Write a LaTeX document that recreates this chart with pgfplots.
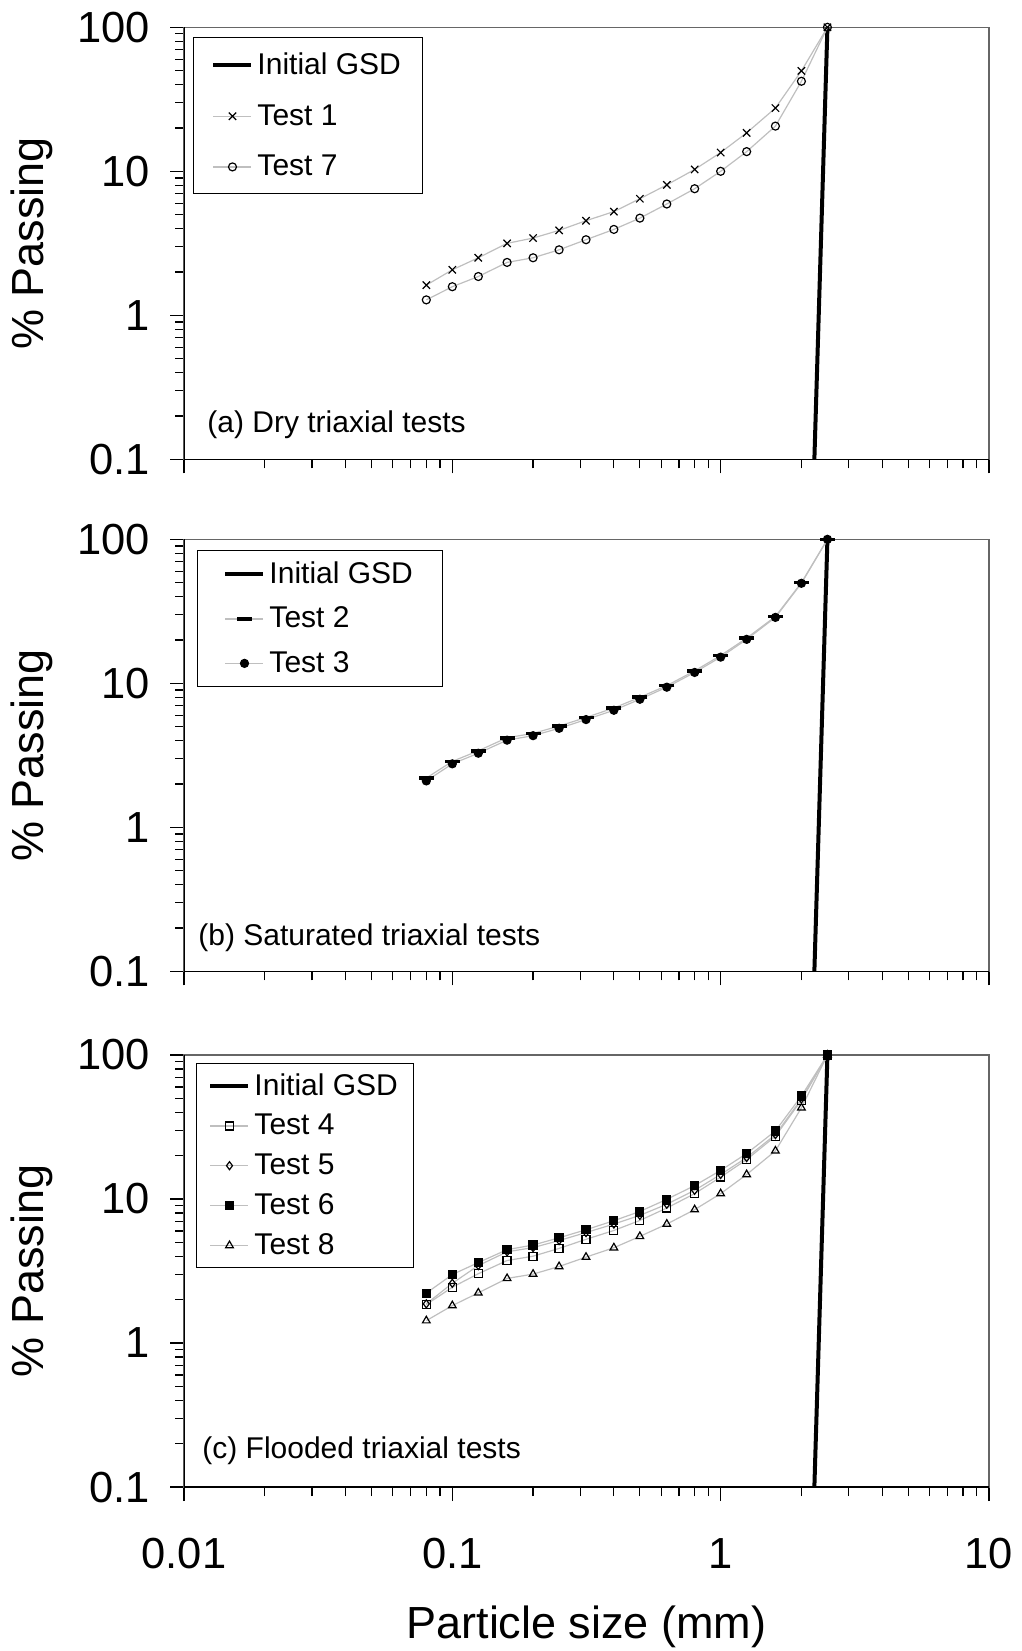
\documentclass[border=0pt]{standalone}
\usepackage{pgfplots}
\pgfplotsset{compat=1.18}
\usepackage{pgfplotstable}
\usepackage{fontspec}
\setmainfont{Liberation Sans}

\pgfplotstableread{
x      t1    t7    t2    t3    t4    t5    t6    t8
0.08   1.62  1.28  2.20  2.10  1.85  1.87  2.22  1.43
0.1    2.07  1.58  2.87  2.76  2.44  2.60  2.99  1.82
0.125  2.51  1.86  3.40  3.27  3.03  3.45  3.62  2.23
0.16   3.16  2.33  4.19  4.03  3.74  4.30  4.45  2.81
0.2    3.44  2.51  4.49  4.33  4.01  4.60  4.79  3.01
0.25   3.89  2.85  5.05  4.87  4.54  5.15  5.38  3.40
0.315  4.54  3.35  5.79  5.60  5.25  5.85  6.12  3.95
0.4    5.25  3.95  6.74  6.50  6.05  6.70  7.07  4.59
0.5    6.45  4.73  8.00  7.75  7.10  7.70  8.20  5.50
0.63   8.05  5.93  9.64  9.40  8.66  9.20  9.95  6.70
0.8    10.3  7.57  12.2  11.9  10.9  11.5  12.4  8.44
1      13.5  10.0  15.6  15.2  14.2  14.8  15.8  10.9
1.25   18.5  13.7  20.6  20.2  18.8  19.4  20.7  14.8
1.6    27.5  20.6  29.1  28.7  27.3  28.0  29.7  21.6
2      49.8  42.2  50.0  49.5  48.6  49.5  51.9  43.0
2.5    100   100   100   100   100   100   100   100
}\gsddata

\tikzset{
  gsdline/.style={color=black!25, line width=0.6pt},
  initline/.style={black, line width=2pt},
}

\pgfplotsset{
  every axis/.append style={
    xmode=log, ymode=log,
    scale only axis, width=402.5pt, height=216pt,
    xmin=0.01, xmax=10, ymin=0.1, ymax=100,
    xtick={0.01,0.1,1,10}, ytick={0.1,1,10,100},
    minor xtick={0.02,0.03,0.04,0.05,0.06,0.07,0.08,0.09,0.2,0.3,0.4,0.5,0.6,0.7,0.8,0.9,2,3,4,5,6,7,8,9},
    minor ytick={0.2,0.3,0.4,0.5,0.6,0.7,0.8,0.9,2,3,4,5,6,7,8,9,20,30,40,50,60,70,80,90},
    yticklabels={0.1,1,10,100},
    tick align=outside, xtick pos=left, ytick pos=left,
    major tick length=7pt, minor tick length=4.5pt,
    axis line style={draw=black!60, line width=0.6pt},
    ticklabel style={font=\fontsize{21.75}{26}\selectfont},
    yticklabel style={anchor=east, inner sep=0pt, xshift=-10pt},
    xticklabel style={anchor=base, inner sep=0pt, yshift=-33.5pt},
    ylabel={\% Passing},
    ylabel style={at={(axis description cs:-0.175,0.5)}, anchor=base, font=\fontsize{22.5}{27}\selectfont},
    legend cell align=left,
    legend image code/.code={\draw[mark repeat=2,mark phase=2] plot coordinates {(0pt,0pt) (9.5pt,0pt) (19pt,0pt)};},
  },
  every tick/.append style={black, line width=0.6pt},
  every axis legend/.append style={at={(0,1)}, anchor=north west, draw=black, line width=0.5pt,
      font=\fontsize{15}{18}\selectfont},
}

\begin{document}
\begin{tikzpicture}
\useasboundingbox (-92pt,13.65pt) rectangle (419pt,-811.85pt);

% (a)
\begin{axis}[at={(0pt,0pt)}, anchor=north west, xticklabels={},
  legend style={xshift=4.5pt, yshift=-4.85pt, inner xsep=9pt, inner ysep=5.6pt, row sep=9.5pt}]
\addplot[initline] coordinates {(2.235,0.1) (2.5,100)};
\addlegendentry{Initial GSD}
\addplot[gsdline, mark=x, mark size=2.6pt, mark options={draw=black, solid, line width=0.6pt}] table[x=x, y=t1] {\gsddata};
\addlegendentry{Test 1}
\addplot[gsdline, mark=o, mark size=2pt, mark options={draw=black, fill=white, solid, line width=0.6pt}] table[x=x, y=t7] {\gsddata};
\addlegendentry{Test 7}
\node[anchor=base west, inner sep=0pt, font=\fontsize{15}{18}\selectfont, xshift=11.5pt, yshift=13.5pt] at (rel axis cs:0,0) {(a) Dry triaxial tests};
\draw[black, line width=0.75pt] (rel axis cs:0,1) -- (rel axis cs:0,0) -- (rel axis cs:1,0);
\end{axis}

% (b)
\begin{axis}[at={(0pt,-256pt)}, anchor=north west, xticklabels={},
  legend style={xshift=6.5pt, yshift=-5.35pt, inner xsep=13pt, inner ysep=3.6pt, row sep=6.25pt}]
\addplot[initline] coordinates {(2.235,0.1) (2.5,100)};
\addlegendentry{Initial GSD}
\addplot[gsdline, mark=-, mark size=3.75pt, mark options={draw=black, solid, line width=1.8pt}] table[x=x, y=t2] {\gsddata};
\addlegendentry{Test 2}
\addplot[gsdline, mark=*, mark size=2pt, mark options={draw=black, fill=black, solid}] table[x=x, y=t3] {\gsddata};
\addlegendentry{Test 3}
\node[anchor=base west, inner sep=0pt, font=\fontsize{15}{18}\selectfont, xshift=7pt, yshift=13pt] at (rel axis cs:0,0) {(b) Saturated triaxial tests};
\draw[black, line width=0.75pt] (rel axis cs:0,1) -- (rel axis cs:0,0) -- (rel axis cs:1,0);
\end{axis}

% (c)
\begin{axis}[at={(0pt,-513.85pt)}, anchor=north west,
  xticklabels={0.01,0.1,1,10},
  xlabel={Particle size (mm)},
  xlabel style={at={(axis description cs:0.5,-0.35)}, anchor=base, font=\fontsize{22.5}{27}\selectfont},
  legend style={xshift=6pt, yshift=-4.2pt, inner xsep=6pt, inner ysep=2.8pt, row sep=4pt}]
\addplot[initline] coordinates {(2.235,0.1) (2.5,100)};
\addlegendentry{Initial GSD}
\addplot[gsdline, mark=square, mark size=2pt, mark options={draw=black, fill=white, solid, line width=0.6pt}] table[x=x, y=t4] {\gsddata};
\addlegendentry{Test 4}
\addplot[gsdline, mark=diamond, mark size=2pt, mark options={draw=black, fill=white, solid, line width=0.6pt}] table[x=x, y=t5] {\gsddata};
\addlegendentry{Test 5}
\addplot[gsdline, mark=square*, mark size=2pt, mark options={draw=black, fill=black, solid}] table[x=x, y=t6] {\gsddata};
\addlegendentry{Test 6}
\addplot[gsdline, mark=triangle, mark size=2.2pt, mark options={draw=black, fill=white, solid, line width=0.6pt}] table[x=x, y=t8] {\gsddata};
\addlegendentry{Test 8}
\node[anchor=base west, inner sep=0pt, font=\fontsize{15}{18}\selectfont, xshift=9pt, yshift=14.2pt] at (rel axis cs:0,0) {(c) Flooded triaxial tests};
\draw[black, line width=0.75pt] (rel axis cs:0,1) -- (rel axis cs:0,0) -- (rel axis cs:1,0);
\end{axis}
\end{tikzpicture}
\end{document}
